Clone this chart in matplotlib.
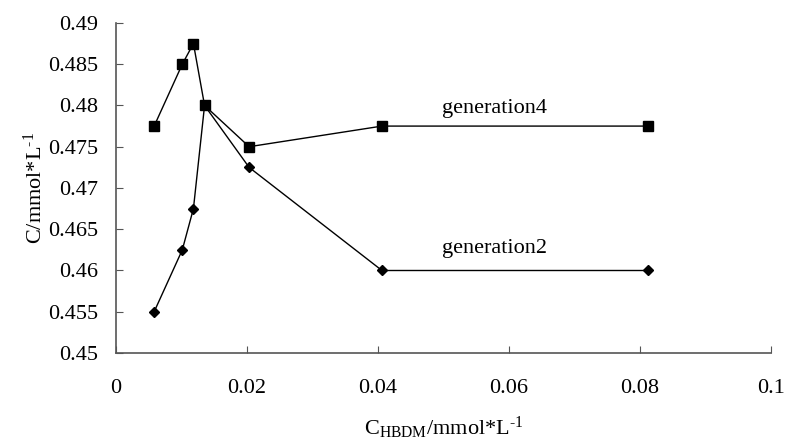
import matplotlib
matplotlib.use("Agg")
import matplotlib.pyplot as plt

plt.rcParams['font.family'] = ['Liberation Serif']
plt.rcParams['mathtext.fontset'] = 'custom'
plt.rcParams['mathtext.rm'] = 'Liberation Serif'
plt.rcParams['mathtext.it'] = 'Liberation Serif:italic'

x = [0.0058, 0.0101, 0.0118, 0.0135, 0.0203, 0.0406, 0.0812]
gen4 = [0.4775, 0.485, 0.4875, 0.48, 0.475, 0.4775, 0.4775]
gen2 = [0.455, 0.4625, 0.4675, 0.48, 0.4725, 0.46, 0.46]
xticks = [0, 0.02, 0.04, 0.06, 0.08, 0.1]
xticklabels = ['0', '0.02', '0.04', '0.06', '0.08', '0.1']
yticks = [0.45, 0.455, 0.46, 0.465, 0.47, 0.475, 0.48, 0.485, 0.49]
yticklabels = ['0.45', '0.455', '0.46', '0.465', '0.47', '0.475', '0.48', '0.485', '0.49']

fig = plt.figure(figsize=(7.85, 4.41), dpi=100)
ax = fig.add_axes([0.148, 0.1995, 0.834, 0.7485])
ax.plot(x, gen4, color='black', lw=1, marker='s', markersize=6.5)
ax.plot(x, gen2, color='black', lw=1, marker='D', markersize=5)
ax.set_xlim(0, 0.1)
ax.set_ylim(0.45, 0.49)
ax.set_xticks(xticks)
ax.set_xticklabels(xticklabels)
ax.set_yticks(yticks)
ax.set_yticklabels(yticklabels)
for s in ['top', 'right']:
    ax.spines[s].set_visible(False)
for s in ['left', 'bottom']:
    ax.spines[s].set_color('#555555')
    ax.spines[s].set_linewidth(1.2)
ax.tick_params(direction='in', length=5, labelsize=16, color='#555555')
ax.tick_params(axis='x', pad=19)
ax.tick_params(axis='y', pad=13)
ax.text(0.0497, 0.4791, 'generation4', fontsize=16, ha='left', va='baseline')
ax.text(0.0497, 0.4621, 'generation2', fontsize=16, ha='left', va='baseline')
ax.set_xlabel(r'C$_{\mathrm{HBDM}}$/mmol*L$^{\text{-1}}$', fontsize=16, labelpad=12)
ax.set_ylabel(r'C/mmol*L$^{\text{-1}}$', fontsize=16, labelpad=1)
fig.savefig('out.png', dpi=100)
